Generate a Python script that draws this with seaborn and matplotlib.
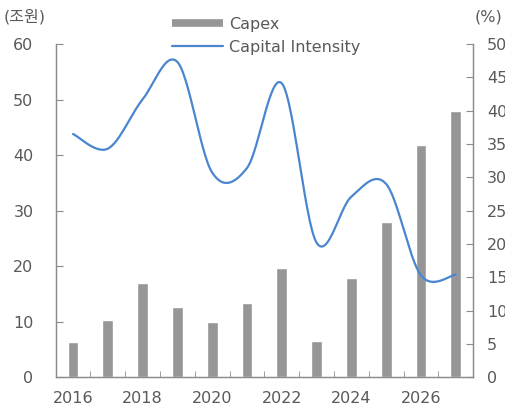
import numpy as np
import pandas as pd
import seaborn as sns
import matplotlib.pyplot as plt
from matplotlib.lines import Line2D

years = [2016, 2017, 2018, 2019, 2020, 2021, 2022, 2023, 2024, 2025, 2026, 2027]
capex = [6.3, 10.4, 17.0, 12.7, 9.9, 13.4, 19.6, 6.6, 17.9, 28.0, 41.9, 47.9]
intensity = [36.5, 34.3, 41.7, 47.3, 30.7, 31.4, 44.1, 20.2, 27.1, 29.0, 15.3, 15.4]
x_labels = [2016, 2018, 2020, 2022, 2024, 2026]

sns.set_style("white")
plt.rcParams['font.family'] = ['DejaVu Sans', 'Noto Sans CJK KR']

txt = '#595959'
spine = '#8c8c8c'
bar_c = '#969696'
line_c = '#4a86d0'
fs = 11.5


def smooth(xs, ys, n=30):
    # excel-like smoothing (bezier through every point, catmull-rom tangents)
    xs = np.asarray(xs, float)
    ys = np.asarray(ys, float)
    px, py = [], []
    for i in range(len(xs) - 1):
        i0, i3 = max(i - 1, 0), min(i + 2, len(xs) - 1)
        c1x = xs[i] + (xs[i + 1] - xs[i0]) / 6
        c1y = ys[i] + (ys[i + 1] - ys[i0]) / 6
        c2x = xs[i + 1] - (xs[i3] - xs[i]) / 6
        c2y = ys[i + 1] - (ys[i3] - ys[i]) / 6
        t = np.linspace(0, 1, n, endpoint=(i == len(xs) - 2))
        a, b, c, d = (1 - t) ** 3, 3 * t * (1 - t) ** 2, 3 * t ** 2 * (1 - t), t ** 3
        px.append(a * xs[i] + b * c1x + c * c2x + d * xs[i + 1])
        py.append(a * ys[i] + b * c1y + c * c2y + d * ys[i + 1])
    return np.concatenate(px), np.concatenate(py)


df = pd.DataFrame({"year": years, "capex": capex})
sx, sy = smooth(years, intensity)
line_df = pd.DataFrame({"year": sx, "ci": sy})

fig = plt.figure(figsize=(5.06, 4.12), dpi=100)
ax = fig.add_axes([0.110, 0.0842, 0.825, 0.809])
sns.barplot(data=df, x="year", y="capex", native_scale=True, width=0.31,
            color=bar_c, saturation=1, ax=ax, zorder=2)
ax.set_xlim(2015.5, 2027.5)
ax.set_ylim(0, 60)
ax.set_yticks(range(0, 61, 10))
ax.set_xticks(x_labels)
ax.set_xticks(np.arange(2015.5, 2028, 1), minor=True)
ax.set_xlabel("")
ax.set_ylabel("")

ax2 = ax.twinx()
sns.lineplot(data=line_df, x="year", y="ci", color=line_c, lw=1.6,
             ax=ax2, sort=False, estimator=None)
ax2.set_ylim(0, 50)
ax2.set_yticks(range(0, 51, 5))
ax2.set_ylabel("")
ax2.set_xlim(2015.5, 2027.5)

for a in (ax, ax2):
    for s in a.spines.values():
        s.set_color(spine)
        s.set_linewidth(0.9)
    a.spines['top'].set_visible(False)

ax.tick_params(axis='y', direction='in', length=5, color=spine, pad=16,
               labelsize=fs, labelcolor=txt)
ax.tick_params(axis='x', which='major', length=0, pad=10,
               labelsize=fs, labelcolor=txt)
ax.tick_params(axis='x', which='minor', direction='in', length=4, color=spine,
               bottom=True)
ax2.tick_params(axis='y', direction='in', length=5, color=spine, pad=10,
                labelsize=fs, labelcolor=txt)

fig.text(4 / 506, 1 - 17 / 412, "(조원)", fontsize=fs, color=txt, va='center')
fig.text(502 / 506, 1 - 17 / 412, "(%)", fontsize=fs, color=txt, va='center',
         ha='right')

handles = [Line2D([0], [0], color=bar_c, lw=5.5, solid_capstyle='butt'),
           Line2D([0], [0], color=line_c, lw=1.6)]
fig.legend(handles, ["Capex", "Capital Intensity"], loc='upper left',
           bbox_to_anchor=(172 / 506, 1 - 17 / 412), frameon=False,
           fontsize=fs, labelcolor=txt, handlelength=3.2, handletextpad=0.35,
           labelspacing=0.5, borderpad=0, borderaxespad=0)

fig.savefig("out.png", dpi=100)
